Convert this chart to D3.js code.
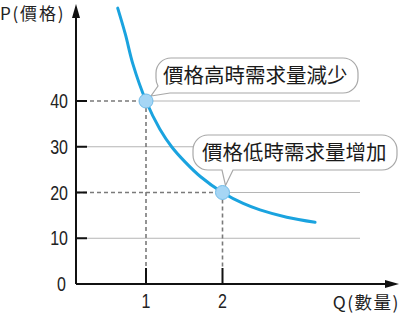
<!DOCTYPE html>
<html><head><meta charset="utf-8">
<script src="https://cdn.jsdelivr.net/npm/d3@7"></script>
<style>body{margin:0;background:#fff}svg{display:block}</style>
</head><body>
<svg id="c" width="400" height="313"></svg>
<script>
// ---- data ----
const yTicks = [0, 10, 20, 30, 40];
const xTicks = [1, 2];
const curveQ = [0.63, 0.73, 0.83, 1.0, 1.18, 1.34, 1.51, 1.71, 2.0, 2.27, 2.49, 2.84, 3.21];
const curveP = [60.3, 54.6, 48.0, 40, 33.9, 29.9, 26.7, 23.5, 20, 17.6, 16.2, 14.6, 13.5];
const pointQ = [1, 2];
const pointP = [40, 20];
const callouts = ["價格高時需求量減少", "價格低時需求量增加"];
const yTitle = "P(價格)";
const xTitle = "Q(數量)";

const svg = d3.select("#c");
const x = d3.scaleLinear().domain([0, 1]).range([69.5, 146]);
const y = d3.scaleLinear().domain([0, 40]).range([284, 101]);
const ox = 76, oy = y(0);
const gridEnd = 360;
const numFont = "'Liberation Sans',Arial,sans-serif";
const cjkFont = "'Noto Sans CJK TC','Noto Sans CJK SC',sans-serif";

function numText(tx, ty, anchor, dy, t) {
  svg.append("g").attr("transform", `translate(${tx},${ty}) scale(0.8,1)`)
    .append("text").attr("text-anchor", anchor).attr("dy", dy)
    .attr("font-family", numFont).attr("font-size", 20).attr("fill", "#222").text(t);
}

// gridlines
yTicks.filter(d => d > 0).forEach(v => {
  const pi = pointP.indexOf(v);
  const sx = pi >= 0 ? x(pointQ[pi]) : ox;
  svg.append("line").attr("x1", sx).attr("x2", gridEnd).attr("y1", y(v)).attr("y2", y(v))
    .attr("stroke", "#b5b5b5").attr("stroke-width", 1);
  if (pi >= 0) {
    svg.append("line").attr("x1", ox).attr("x2", sx).attr("y1", y(v)).attr("y2", y(v))
      .attr("stroke", "#7a7a7a").attr("stroke-width", 1.6).attr("stroke-dasharray", "4,3");
  }
});
// vertical dashed
pointQ.forEach((q, i) => {
  svg.append("line").attr("x1", x(q)).attr("x2", x(q)).attr("y1", y(pointP[i])).attr("y2", oy - 16)
    .attr("stroke", "#7a7a7a").attr("stroke-width", 1.6).attr("stroke-dasharray", "4,3");
});

// axes
svg.append("line").attr("x1", ox).attr("x2", ox).attr("y1", oy).attr("y2", 14).attr("stroke", "#111").attr("stroke-width", 2);
svg.append("path").attr("d", `M${ox},4 L${ox-4},18 L${ox+4},18 Z`).attr("fill", "#111");
svg.append("line").attr("x1", ox).attr("x2", 388).attr("y1", oy).attr("y2", oy).attr("stroke", "#111").attr("stroke-width", 2);
svg.append("path").attr("d", `M399,${oy} L385,${oy-4} L385,${oy+4} Z`).attr("fill", "#111");

// y ticks
yTicks.forEach(v => {
  if (v > 0) svg.append("line").attr("x1", ox).attr("x2", ox + 11).attr("y1", y(v)).attr("y2", y(v)).attr("stroke", "#111").attr("stroke-width", 2);
  numText(v === 0 ? 66 : 68, y(v), "end", "0.36em", v);
});
// x ticks
xTicks.forEach(v => {
  svg.append("line").attr("x1", x(v)).attr("x2", x(v)).attr("y1", oy - 16).attr("y2", oy).attr("stroke", "#111").attr("stroke-width", 2);
  numText(x(v), 308, "middle", 0, v);
});

// titles
svg.append("text").attr("x", 0).attr("y", 20).attr("font-family", cjkFont).attr("font-size", 17)
  .attr("letter-spacing", 1.8).attr("fill", "#222").text(yTitle);
svg.append("text").attr("x", 400).attr("y", 309).attr("text-anchor", "end").attr("font-family", cjkFont).attr("font-size", 17.5)
  .attr("letter-spacing", 1.5).attr("fill", "#222").text(xTitle);

// curve
const pts = curveQ.map((q, i) => [x(q), y(curveP[i])]);
svg.append("path").attr("d", d3.line().curve(d3.curveCatmullRom.alpha(0.5))(pts))
  .attr("fill", "none").attr("stroke", "#1aa3df").attr("stroke-width", 3).attr("stroke-linecap", "round");

// callouts
function callout(x0, x1, y0, y1, r, tail, text, tx) {
  const d = `M${x0 + r},${y0} L${x1 - r},${y0} A${r},${r} 0 0 1 ${x1},${y0 + r} L${x1},${y1 - r} A${r},${r} 0 0 1 ${x1 - r},${y1} ` +
    `L${tail[0][0]},${tail[0][1]} L${tail[1][0]},${tail[1][1]} L${tail[2][0]},${tail[2][1]} ` +
    (tail[3] ? `A${r},${r} 0 0 1 ${x0},${y1 - r} ` : `L${x0 + r},${y1} A${r},${r} 0 0 1 ${x0},${y1 - r} `) +
    `L${x0},${y0 + r} A${r},${r} 0 0 1 ${x0 + r},${y0} Z`;
  svg.append("path").attr("d", d).attr("fill", "#fff").attr("stroke", "#a8a8a8").attr("stroke-width", 1.2);
  svg.append("text").attr("x", tx).attr("y", (y0 + y1) / 2).attr("dy", "0.36em")
    .attr("font-family", cjkFont).attr("font-size", 20.5).attr("fill", "#1a1a1a").text(text);
}
const p1 = [x(pointQ[0]), y(pointP[0])], p2 = [x(pointQ[1]), y(pointP[1])];
callout(156, 358, 58, 93, 15, [[170, 93], [p1[0] + 5, p1[1] - 5], [158, 86], true], callouts[0], 163);
callout(193, 397, 135, 170, 15, [[233, 170], [p2[0] + 3, p2[1] - 7], [222, 170]], callouts[1], 202);

// points
pointQ.forEach((q, i) => {
  svg.append("circle").attr("cx", x(q)).attr("cy", y(pointP[i])).attr("r", 7)
    .attr("fill", "#a6d6f5").attr("stroke", "#72bde9").attr("stroke-width", 1);
});
</script>
</body></html>
